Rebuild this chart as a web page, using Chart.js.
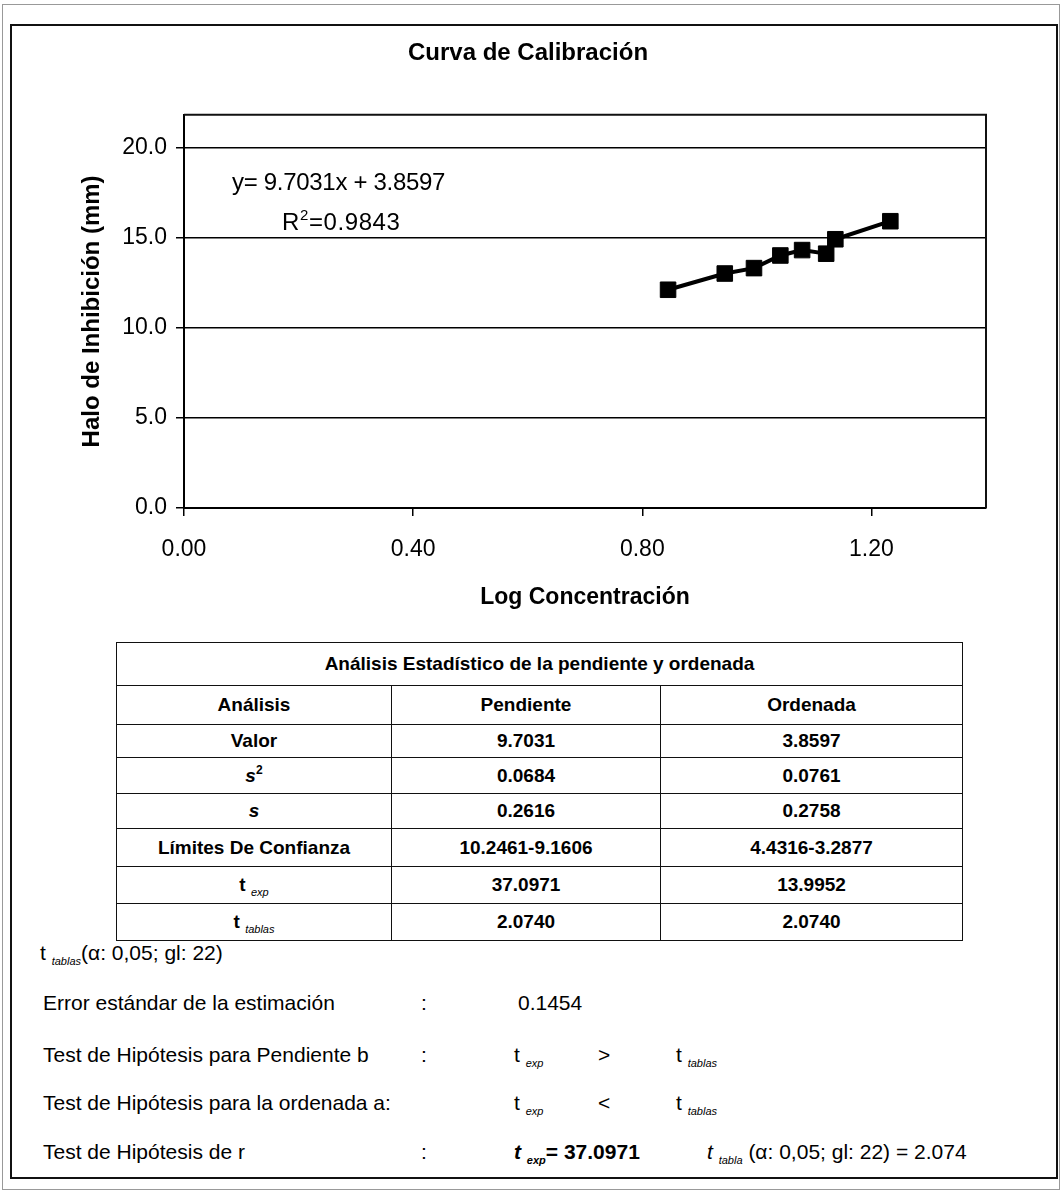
<!DOCTYPE html>
<html>
<head>
<meta charset="utf-8">
<script src="https://cdn.jsdelivr.net/npm/chart.js@4.4.1/dist/chart.umd.min.js"></script>
<style>
  body { margin: 0; background: #fff; font-family: Arial, "Liberation Sans", sans-serif; color: #000; }
  #page { position: relative; width: 1062px; height: 1192px; overflow: hidden; }
  #outer { position: absolute; left: 2px; top: 4px; width: 1058px; height: 1186px; border: 1px solid #999; box-sizing: border-box; }
  #frame { position: absolute; left: 10px; top: 24px; width: 1048px; height: 1155px; border: 2px solid #111; box-sizing: border-box; }
  #chartBox { position: absolute; left: 0; top: 0; width: 1062px; height: 620px; }
  .eq { position: absolute; font-size: 24px; letter-spacing: -0.3px; white-space: nowrap; line-height: 24px; }
  .eq sup { font-size: 15px; vertical-align: 10px; line-height: 0; }
  #stats { position: absolute; left: 116px; top: 642px; border-collapse: collapse; font-weight: bold; font-size: 19px; }
  #stats td { border: 1.5px solid #111; text-align: center; padding: 0; }
  #stats sub { font-size: 11px; font-weight: normal; font-style: italic; vertical-align: -5px; line-height: 0; }
  #stats sup { font-size: 12px; vertical-align: 8px; line-height: 0; }
  .ln { position: absolute; font-size: 21px; white-space: nowrap; line-height: 24px; }
  .ln sub { font-size: 11px; font-style: italic; vertical-align: -5px; line-height: 0; }
</style>
</head>
<body>
<div id="page">
  <div id="outer"></div>
  <div id="frame"></div>
  <div id="chartBox"><canvas id="chart" width="1062" height="620"></canvas></div>

  <div class="eq" style="left:232px; top:170px;">y= 9.7031x + 3.8597</div>
  <div class="eq" style="left:282px; top:210px; letter-spacing:0.6px;">R<sup>2</sup>=0.9843</div>

  <table id="stats">
    <colgroup><col style="width:275px"><col style="width:269px"><col style="width:302px"></colgroup>
    <tr style="height:43px"><td colspan="3">Análisis Estadístico de la pendiente y ordenada</td></tr>
    <tr style="height:39px"><td>Análisis</td><td>Pendiente</td><td>Ordenada</td></tr>
    <tbody id="statsBody"></tbody>
  </table>

  <div class="ln" style="left:40px; top:941px;">t <sub>tablas</sub>(α: 0,05; gl: 22)</div>

  <div class="ln" style="left:43px; top:991px;">Error estándar de la estimación</div>
  <div class="ln" style="left:421px; top:991px;">:</div>
  <div class="ln" style="left:518px; top:991px;">0.1454</div>

  <div class="ln" style="left:43px; top:1043px;">Test de Hipótesis para Pendiente b</div>
  <div class="ln" style="left:421px; top:1043px;">:</div>
  <div class="ln" style="left:514px; top:1043px;">t <sub>exp</sub></div>
  <div class="ln" style="left:598px; top:1043px;">&gt;</div>
  <div class="ln" style="left:676px; top:1043px;">t <sub>tablas</sub></div>

  <div class="ln" style="left:43px; top:1091px;">Test de Hipótesis para la ordenada a:</div>
  <div class="ln" style="left:514px; top:1091px;">t <sub>exp</sub></div>
  <div class="ln" style="left:598px; top:1091px;">&lt;</div>
  <div class="ln" style="left:676px; top:1091px;">t <sub>tablas</sub></div>

  <div class="ln" style="left:43px; top:1140px;">Test de Hipótesis de r</div>
  <div class="ln" style="left:421px; top:1140px;">:</div>
  <div class="ln" style="left:514px; top:1140px; font-weight:bold;"><i>t</i> <sub>exp</sub>= 37.0971</div>
  <div class="ln" style="left:707px; top:1140px;"><i>t</i> <sub>tabla</sub> (α: 0,05; gl: 22) = 2.074</div>
</div>

<script>
// valores
const logConc = [0.845, 0.944, 0.995, 1.041, 1.079, 1.121, 1.137, 1.233];
const haloMm = [12.1, 13.0, 13.3, 14.0, 14.3, 14.1, 14.9, 15.9];
const xTicks = [0, 0.4, 0.8, 1.2];
const yTicks = [0, 5, 10, 15, 20];

// tabla de analisis
const rowLabels = ['Valor', '<i>s</i><sup>2</sup>', '<i>s</i>', 'Límites De Confianza', 't <sub>exp</sub>', 't <sub>tablas</sub>'];
const pendiente = ['9.7031', '0.0684', '0.2616', '10.2461-9.1606', '37.0971', '2.0740'];
const ordenada = ['3.8597', '0.0761', '0.2758', '4.4316-3.2877', '13.9952', '2.0740'];
const rowHeights = [33, 36, 35, 38, 37, 37];

const body = document.getElementById('statsBody');
rowLabels.forEach((lab, i) => {
  const tr = document.createElement('tr');
  tr.style.height = rowHeights[i] + 'px';
  tr.innerHTML = `<td>${lab}</td><td>${pendiente[i]}</td><td>${ordenada[i]}</td>`;
  body.appendChild(tr);
});

const plotBorder = {
  id: 'plotBorder',
  afterDraw(chart) {
    const { ctx, chartArea: a } = chart;
    ctx.save();
    ctx.strokeStyle = '#111';
    ctx.lineWidth = 2;
    ctx.beginPath();
    ctx.moveTo(a.left, a.top);
    ctx.lineTo(a.right, a.top);
    ctx.lineTo(a.right, a.bottom);
    ctx.stroke();
    ctx.restore();
  }
};

const fontFam = 'Arial, "Liberation Sans", sans-serif';
const ctx = document.getElementById('chart').getContext('2d');
new Chart(ctx, {
  type: 'scatter',
  data: {
    datasets: [{
      data: logConc.map((x, i) => ({ x: x, y: haloMm[i] })),
      showLine: true,
      borderColor: '#000',
      borderWidth: 4,
      pointStyle: 'rect',
      pointRadius: 11,
      pointBackgroundColor: '#000',
      pointBorderColor: '#000',
      pointBorderWidth: 1
    }]
  },
  options: {
    responsive: false,
    animation: false,
    layout: { padding: { left: 70, right: 76, top: 0, bottom: 0 } },
    plugins: {
      legend: { display: false },
      tooltip: { enabled: false },
      title: {
        display: true,
        text: 'Curva de Calibración',
        color: '#000',
        font: { family: fontFam, size: 24, weight: 'bold' },
        padding: { top: 39, bottom: 47 }
      }
    },
    scales: {
      x: {
        type: 'linear',
        min: 0,
        max: 1.4,
        afterBuildTicks: s => { s.ticks = xTicks.map(v => ({ value: v })); },
        afterFit: s => { s.height = 112; },
        ticks: {
          callback: v => v.toFixed(2),
          color: '#000',
          font: { family: fontFam, size: 23 },
          padding: 20,
          maxRotation: 0,
          autoSkip: false
        },
        grid: { drawOnChartArea: false, drawTicks: true, tickLength: 8, color: '#000', lineWidth: 1.5 },
        border: { color: '#000', width: 2 },
        title: {
          display: true,
          text: 'Log Concentración',
          color: '#000',
          font: { family: fontFam, size: 23, weight: 'bold' },
          padding: { top: 0, bottom: 9 }
        }
      },
      y: {
        min: 0,
        max: 21.8,
        afterBuildTicks: s => { s.ticks = yTicks.map(v => ({ value: v })); },
        afterFit: s => { s.width = 114; },
        ticks: {
          callback: v => v.toFixed(1),
          color: '#000',
          font: { family: fontFam, size: 23 },
          padding: 9
        },
        grid: { color: '#000', lineWidth: 1.5, drawTicks: true, tickLength: 8 },
        border: { color: '#000', width: 2 },
        title: {
          display: true,
          text: 'Halo de Inhibición (mm)',
          color: '#000',
          font: { family: fontFam, size: 24, weight: 'bold' },
          padding: { top: 8, bottom: 0 }
        }
      }
    }
  },
  plugins: [plotBorder]
});
</script>
</body>
</html>
